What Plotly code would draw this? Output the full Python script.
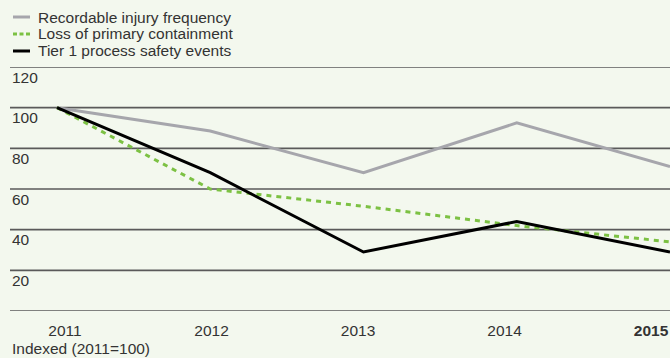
import plotly.graph_objects as go

# Indexed safety metrics (2011 = 100)
years = [2011, 2012, 2013, 2014, 2015]
year_labels = ["2011", "2012", "2013", "2014", "<b>2015</b>"]
recordable_injury = [100, 88.5, 68, 92.5, 71]
loss_of_containment = [100, 60, 51.5, 42, 34]
tier1_events = [100, 68, 29, 44, 29]
y_ticks = [120, 100, 80, 60, 40, 20]
grid_values = [120, 100, 80, 60, 40, 20, 0]

series_names = ["Recordable injury frequency", "Loss of primary containment", "Tier 1 process safety events"]
series_colors = ["#a6a6ac", "#7cc143", "#000000"]
series_dash = ["solid", "5px,5px", "solid"]
legend_dash = ["solid", "4px,2.5px", "solid"]

W, H = 670, 358
ML, MR, MT, MB = 10, 0, 67, 47
plot_w = W - ML - MR
plot_h = H - MT - MB

TEXT = "#333333"
FONT = "Liberation Sans, Arial, sans-serif"
BG = "#f3f8ee"

fig = go.Figure()

for name, vals, color, dash in zip(series_names,
                                   [recordable_injury, loss_of_containment, tier1_events],
                                   series_colors, series_dash):
    fig.add_trace(go.Scatter(x=years, y=vals, name=name, mode="lines",
                             line=dict(color=color, width=3, dash=dash),
                             showlegend=False, cliponaxis=False, hoverinfo="skip"))

# invisible trace to carry the year-label axis
fig.add_trace(go.Scatter(x=years, y=[None] * len(years), xaxis="x2",
                         showlegend=False, hoverinfo="skip"))


def px_x(p):
    return (p - ML) / plot_w


def px_y(p):
    return (H - MB - p) / plot_h


shapes = []
for g in grid_values:
    shapes.append(dict(type="line", xref="paper", yref="y", x0=0, x1=1, y0=g, y1=g,
                       line=dict(color="#5a5a5a", width=1.6), layer="below"))

annotations = []
for t in y_ticks:
    annotations.append(dict(xref="paper", yref="y", x=0, y=t, yshift=-10,
                            xanchor="left", yanchor="middle", showarrow=False,
                            text=str(t), font=dict(size=15.5, color=TEXT, family=FONT)))

annotations.append(dict(xref="paper", yref="paper", x=0, y=px_y(348),
                        xanchor="left", yanchor="middle", showarrow=False,
                        text="Indexed (2011=100)", font=dict(size=15.5, color=TEXT, family=FONT)))

# custom legend block above the plot
legend_rows = [17, 34, 51]
for name, color, dash, row in zip(series_names, series_colors, legend_dash, legend_rows):
    shapes.append(dict(type="line", xref="paper", yref="paper",
                       x0=px_x(13), x1=px_x(30), y0=px_y(row), y1=px_y(row),
                       line=dict(color=color, width=3, dash=dash)))
    annotations.append(dict(xref="paper", yref="paper", x=px_x(37), y=px_y(row),
                            xanchor="left", yanchor="middle", showarrow=False, borderpad=0,
                            text=name, font=dict(size=15.5, color=TEXT, family=FONT)))

fig.update_layout(
    width=W, height=H,
    margin=dict(l=ML, r=MR, t=MT, b=MB),
    paper_bgcolor=BG, plot_bgcolor=BG,
    showlegend=False,
    xaxis=dict(range=[2011 - 47 / 153.25, 2015], showgrid=False, zeroline=False,
               showticklabels=False, ticks="", fixedrange=True),
    xaxis2=dict(overlaying="x", side="bottom", range=[2011 - 55 / 146.5, 2015 + 19 / 146.5],
                tickmode="array", tickvals=years, ticktext=year_labels,
                showgrid=False, zeroline=False, ticks="", showline=False,
                ticklabelstandoff=8, automargin=False, ticklabeloverflow="allow",
                tickfont=dict(size=15.5, color=TEXT, family=FONT)),
    yaxis=dict(range=[0, 120], showgrid=False, zeroline=False, showticklabels=False,
               ticks="", fixedrange=True),
    shapes=shapes,
    annotations=annotations,
)

fig.write_html("out.html")
